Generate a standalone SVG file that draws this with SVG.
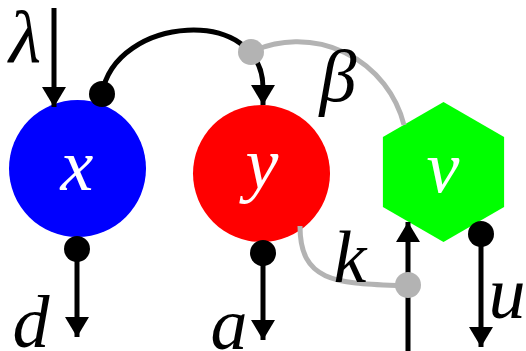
<svg xmlns="http://www.w3.org/2000/svg" width="526" height="351" viewBox="0 0 526 351">
<style>
.lbl{font-family:"Liberation Serif","Times New Roman",serif;font-style:italic;font-size:74px;text-anchor:middle;fill:#000}
.nl{fill:#fff}
.blk{fill:none;stroke:#000;stroke-width:5}
.gry{fill:none;stroke:#b3b3b3;stroke-width:5}
.dot{fill:#000}
.gdot{fill:#b3b3b3}
</style>
<defs>
<marker id="ah" markerWidth="20" markerHeight="24" refX="20" refY="12" orient="auto" markerUnits="userSpaceOnUse">
<path d="M0,0 L20,12 L0,24 z" fill="#000"/>
</marker>
</defs>
<g id="node-x">
<circle cx="77.5" cy="168.5" r="68.5" fill="#0000ff"/>
<text class="lbl nl" x="77" y="190">x</text>
</g>
<g id="node-y">
<circle cx="261.5" cy="173.5" r="68.5" fill="#ff0000"/>
<text class="lbl nl" x="262" y="188">y</text>
</g>
<g id="node-v">
<polygon points="443.5,102 504.1,137 504.1,207 443.5,242 382.9,207 382.9,137" fill="#00ff00"/>
<text class="lbl nl" x="443" y="192">v</text>
</g>
<g id="connectors">
<path class="gry" d="M251,52 A110,110 0 0 1 404,125"/>
<path class="gry" d="M300,226 C300,285 340,283 408,286"/>
<path class="blk" d="M102,94 C115,15 263,5 263,88 L263,105" marker-end="url(#ah)"/>
<path class="blk" d="M54,8 L54,107" marker-end="url(#ah)"/>
<path class="blk" d="M77,249 L77,337" marker-end="url(#ah)"/>
<path class="blk" d="M263,253 L263,340" marker-end="url(#ah)"/>
<path class="blk" d="M408,351 L408,222" marker-end="url(#ah)"/>
<path class="blk" d="M481,234 L481,347" marker-end="url(#ah)"/>
<circle class="dot" cx="102" cy="94" r="13"/>
<circle class="gdot" cx="251" cy="52" r="13"/>
<circle class="dot" cx="77" cy="249" r="13"/>
<circle class="dot" cx="263" cy="253" r="13"/>
<circle class="gdot" cx="408" cy="285" r="13"/>
<circle class="dot" cx="481" cy="234" r="13"/>
<text class="lbl" x="25" y="62">λ</text>
<text class="lbl" x="338" y="101">β</text>
<text class="lbl" x="350" y="282">k</text>
<text class="lbl" x="31" y="347">d</text>
<text class="lbl" x="229" y="349">a</text>
<text class="lbl" x="507" y="318">u</text>
</g>
</svg>
